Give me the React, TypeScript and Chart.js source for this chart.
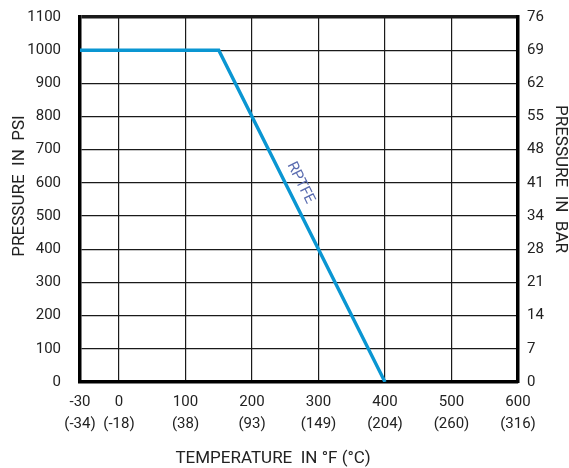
import React, { useEffect, useRef } from "react";
import { Chart, registerables, LinearScale } from "chart.js";

// ---- data ----
const TEMP_F = [-30, 150, 400];
const PRESSURE_PSI = [1000, 1000, 0];
const SERIES_LABEL = "RPTFE";
const X_TICKS_F = [-30, 0, 100, 200, 300, 400, 500, 600];
const X_TICKS_C = [-34, -18, 38, 93, 149, 204, 260, 316];
const Y_TICKS_BAR = [0, 7, 14, 21, 28, 34, 41, 48, 55, 62, 69, 76];
const LABEL_AT = { x: 273, y: 600 };

const X_MIN = -30;
const X_BREAK = 0;
const X_MAX = 600;
// share of the axis width given to the -30..0 segment
const BREAK_SHARE = 39 / 438;

class PiecewiseScale extends LinearScale {
  static id = "piecewise";
  static defaults = (LinearScale as any).defaults;
  getPixelForValue(value: number) {
    let d: number;
    if (value <= X_BREAK) d = ((value - X_MIN) / (X_BREAK - X_MIN)) * BREAK_SHARE;
    else d = BREAK_SHARE + ((value - X_BREAK) / (X_MAX - X_BREAK)) * (1 - BREAK_SHARE);
    return (this as any).getPixelForDecimal(d);
  }
  getValueForPixel(pixel: number) {
    const d = (this as any).getDecimalForPixel(pixel);
    if (d <= BREAK_SHARE) return X_MIN + (d / BREAK_SHARE) * (X_BREAK - X_MIN);
    return X_BREAK + ((d - BREAK_SHARE) / (1 - BREAK_SHARE)) * (X_MAX - X_BREAK);
  }
}

Chart.register(...registerables, PiecewiseScale as any);

const FONT = "Roboto";
const TEXT = "#222";

const titlesPlugin = {
  id: "titles",
  afterDraw(chart: any) {
    const ctx = chart.ctx;
    ctx.save();
    ctx.fillStyle = TEXT;
    ctx.font = `17px ${FONT}`;
    ctx.textAlign = "center";
    ctx.textBaseline = "middle";
    ctx.fillText("TEMPERATURE  IN °F (°C)", 273, 459);
    ctx.save();
    ctx.translate(20, 186);
    ctx.rotate(-Math.PI / 2);
    ctx.fillText("PRESSURE  IN  PSI", 0, 0);
    ctx.restore();
    ctx.save();
    ctx.translate(560, 179);
    ctx.rotate(Math.PI / 2);
    ctx.fillText("PRESSURE  IN  BAR", 0, 0);
    ctx.restore();

    // series label along the line
    const xs = chart.scales.x;
    const ys = chart.scales.y;
    const x1 = xs.getPixelForValue(TEMP_F[1]);
    const y1 = ys.getPixelForValue(PRESSURE_PSI[1]);
    const x2 = xs.getPixelForValue(TEMP_F[2]);
    const y2 = ys.getPixelForValue(PRESSURE_PSI[2]);
    const ang = Math.atan2(y2 - y1, x2 - x1);
    ctx.translate(xs.getPixelForValue(LABEL_AT.x), ys.getPixelForValue(LABEL_AT.y));
    ctx.rotate(ang);
    ctx.fillStyle = "#5a6cb0";
    ctx.font = `15px ${FONT}`;
    ctx.fillText(SERIES_LABEL, 0, 0);
    ctx.restore();
  },
};

const noVPad = (w: number) => (s: any) => {
  s.width = w;
  s.paddingTop = 0;
  s.paddingBottom = 0;
};

export default function App() {
  const ref = useRef<HTMLCanvasElement>(null);
  useEffect(() => {
    if (!ref.current) return;
    const gridColor = "#1a1a1a";
    const chart = new Chart(ref.current, {
      type: "line",
      data: {
        datasets: [
          {
            label: SERIES_LABEL,
            data: TEMP_F.map((x, i) => ({ x, y: PRESSURE_PSI[i] })),
            borderColor: "#0a96d2",
            borderWidth: 3.4,
            pointRadius: 0,
            tension: 0,
            fill: false,
            yAxisID: "y",
          },
        ],
      },
      options: {
        animation: false,
        responsive: true,
        maintainAspectRatio: false,
        layout: { padding: { top: 17, left: 0, right: 0, bottom: 0 } },
        plugins: { legend: { display: false }, tooltip: { enabled: false } },
        scales: {
          x: {
            type: "piecewise" as any,
            min: X_MIN,
            max: X_MAX,
            afterBuildTicks: (s: any) => {
              s.ticks = X_TICKS_F.map((v) => ({ value: v }));
            },
            afterFit: (s: any) => {
              s.height = 86;
              s.paddingLeft = 0;
              s.paddingRight = 0;
            },
            grid: { color: gridColor, lineWidth: 1.2, drawTicks: false },
            border: { color: "#000", width: 3.5 },
            ticks: {
              autoSkip: false,
              maxRotation: 0,
              padding: 9,
              color: TEXT,
              font: { family: FONT, size: 15, lineHeight: 22 / 15 },
              callback: (_v: any, i: number) => [String(X_TICKS_F[i]), `(${X_TICKS_C[i]})`],
            },
          } as any,
          y: {
            position: "left",
            min: 0,
            max: 1100,
            afterFit: noVPad(80),
            grid: {
              color: gridColor,
              lineWidth: (c: any) => (c.tick && c.tick.value === 1100 ? 3.5 : 1.2),
              drawTicks: false,
            },
            border: { color: "#000", width: 3.5 },
            ticks: {
              stepSize: 100,
              padding: 19,
              color: TEXT,
              font: { family: FONT, size: 15 },
              callback: (v: any) => String(v),
            },
          },
          y2: {
            position: "right",
            min: 0,
            max: 1100,
            afterFit: noVPad(51),
            grid: { display: false, drawTicks: false },
            border: { color: "#000", width: 3.5 },
            ticks: {
              stepSize: 100,
              padding: 9,
              color: TEXT,
              font: { family: FONT, size: 15 },
              callback: (_v: any, i: number) => String(Y_TICKS_BAR[i]),
            },
          },
        },
      },
      plugins: [titlesPlugin],
    });
    return () => chart.destroy();
  }, []);
  return (
    <div style={{ position: "fixed", left: 0, top: 0, width: 569, height: 468, background: "#fff" }}>
      <canvas ref={ref} />
    </div>
  );
}
